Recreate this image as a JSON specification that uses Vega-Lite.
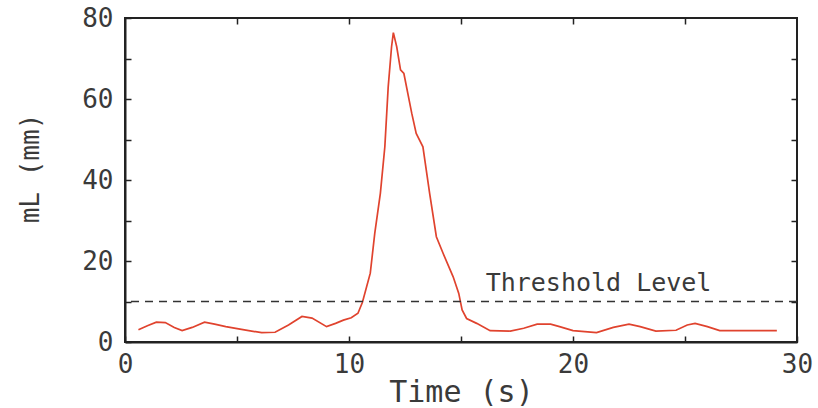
{
  "$schema": "https://vega.github.io/schema/vega-lite/v6.json",
  "width": 672,
  "height": 324,
  "autosize": {"type": "none"},
  "padding": {"left": 125, "top": 18, "right": 21, "bottom": 66},
  "background": "#ffffff",
  "config": {
    "view": {"stroke": "#222222", "strokeWidth": 2},
    "font": "DejaVu Sans Mono",
    "axis": {
      "labelFont": "DejaVu Sans Mono",
      "titleFont": "DejaVu Sans Mono",
      "labelColor": "#3a3a3a",
      "titleColor": "#3a3a3a",
      "titleFontWeight": "normal",
      "domainColor": "#222222",
      "domainWidth": 2,
      "tickColor": "#222222",
      "tickWidth": 1.5,
      "grid": false
    }
  },
  "datasets": {
    "signal": [
      {"t": 0.6, "mL": 3.0}, {"t": 1.0, "mL": 4.0}, {"t": 1.4, "mL": 4.9}, {"t": 1.8, "mL": 4.8},
      {"t": 2.2, "mL": 3.6}, {"t": 2.55, "mL": 2.8}, {"t": 3.0, "mL": 3.6}, {"t": 3.55, "mL": 4.9},
      {"t": 4.0, "mL": 4.4}, {"t": 4.5, "mL": 3.8}, {"t": 5.2, "mL": 3.1}, {"t": 6.1, "mL": 2.3},
      {"t": 6.7, "mL": 2.4}, {"t": 7.3, "mL": 4.2}, {"t": 7.9, "mL": 6.3}, {"t": 8.35, "mL": 5.9},
      {"t": 9.0, "mL": 3.8}, {"t": 9.4, "mL": 4.6}, {"t": 9.75, "mL": 5.4}, {"t": 10.1, "mL": 6.0},
      {"t": 10.4, "mL": 7.1}, {"t": 10.6, "mL": 9.8}, {"t": 10.95, "mL": 17}, {"t": 11.15, "mL": 26.8},
      {"t": 11.4, "mL": 36.7}, {"t": 11.6, "mL": 48.2}, {"t": 11.75, "mL": 63}, {"t": 11.9, "mL": 72.9},
      {"t": 11.98, "mL": 76.4}, {"t": 12.13, "mL": 72.9}, {"t": 12.3, "mL": 67.2}, {"t": 12.45, "mL": 66.3},
      {"t": 12.8, "mL": 56.5}, {"t": 13.0, "mL": 51.5}, {"t": 13.3, "mL": 48.2}, {"t": 13.6, "mL": 36.7},
      {"t": 13.9, "mL": 26}, {"t": 14.2, "mL": 21.9}, {"t": 14.65, "mL": 16.1}, {"t": 14.9, "mL": 12},
      {"t": 15.05, "mL": 7.9}, {"t": 15.25, "mL": 5.8}, {"t": 15.7, "mL": 4.6}, {"t": 16.3, "mL": 2.8},
      {"t": 17.2, "mL": 2.7}, {"t": 17.8, "mL": 3.4}, {"t": 18.4, "mL": 4.4}, {"t": 19.0, "mL": 4.4},
      {"t": 19.4, "mL": 3.8}, {"t": 20.0, "mL": 2.8}, {"t": 21.05, "mL": 2.3}, {"t": 21.8, "mL": 3.6},
      {"t": 22.5, "mL": 4.4}, {"t": 23.0, "mL": 3.8}, {"t": 23.7, "mL": 2.7}, {"t": 24.6, "mL": 2.9},
      {"t": 25.1, "mL": 4.2}, {"t": 25.45, "mL": 4.6}, {"t": 26.0, "mL": 3.8}, {"t": 26.55, "mL": 2.8},
      {"t": 27.9, "mL": 2.8}, {"t": 29.1, "mL": 2.8}
    ],
    "threshold": [{"level": 10, "label": "Threshold Level"}]
  },
  "layer": [
    {
      "data": {"name": "signal"},
      "mark": {"type": "line", "color": "#e0432e", "strokeWidth": 1.7, "interpolate": "linear"},
      "encoding": {
        "x": {
          "field": "t", "type": "quantitative",
          "scale": {"domain": [0, 30], "nice": false, "zero": false},
          "axis": {
            "orient": "bottom",
            "values": [0, 5, 10, 15, 20, 25, 30],
            "labelExpr": "datum.value % 10 == 0 ? datum.label : ''",
            "tickSize": -6,
            "labelPadding": 15,
            "labelFontSize": 26,
            "labelFlush": false,
            "title": "Time (s)",
            "titleFontSize": 30,
            "titleY": 59,
            "titleBaseline": "alphabetic"
          }
        },
        "y": {
          "field": "mL", "type": "quantitative",
          "scale": {"domain": [0, 80], "nice": false},
          "axis": {
            "orient": "left",
            "values": [0, 10, 20, 30, 40, 50, 60, 70, 80],
            "labelExpr": "datum.value % 20 == 0 ? datum.label : ''",
            "tickSize": -6,
            "labelPadding": 18,
            "labelFontSize": 26,
            "labelFlush": false,
            "title": "mL (mm)",
            "titleFontSize": 26,
            "titleX": -95,
            "titleY": 150,
            "titleAngle": -90,
            "titleAlign": "center",
            "titleBaseline": "middle"
          }
        }
      }
    },
    {
      "data": {"name": "threshold"},
      "mark": {"type": "rule", "color": "#333333", "strokeWidth": 1.5, "strokeDash": [8, 6]},
      "encoding": {
        "y": {"field": "level", "type": "quantitative", "axis": null}
      }
    },
    {
      "data": {"name": "threshold"},
      "mark": {"type": "text", "align": "left", "baseline": "alphabetic", "fontSize": 25, "font": "DejaVu Sans Mono", "color": "#3a3a3a"},
      "encoding": {
        "text": {"field": "label"},
        "x": {
          "datum": 16.1, "type": "quantitative",
          "axis": {"orient": "top", "values": [5, 10, 15, 20, 25], "labels": false, "tickSize": -6, "title": null, "domain": false}
        },
        "y": {
          "datum": 12.5, "type": "quantitative",
          "axis": {"orient": "right", "values": [10, 20, 30, 40, 50, 60, 70], "labels": false, "tickSize": -6, "title": null, "domain": false}
        }
      }
    }
  ],
  "resolve": {"axis": {"x": "independent", "y": "independent"}}
}
